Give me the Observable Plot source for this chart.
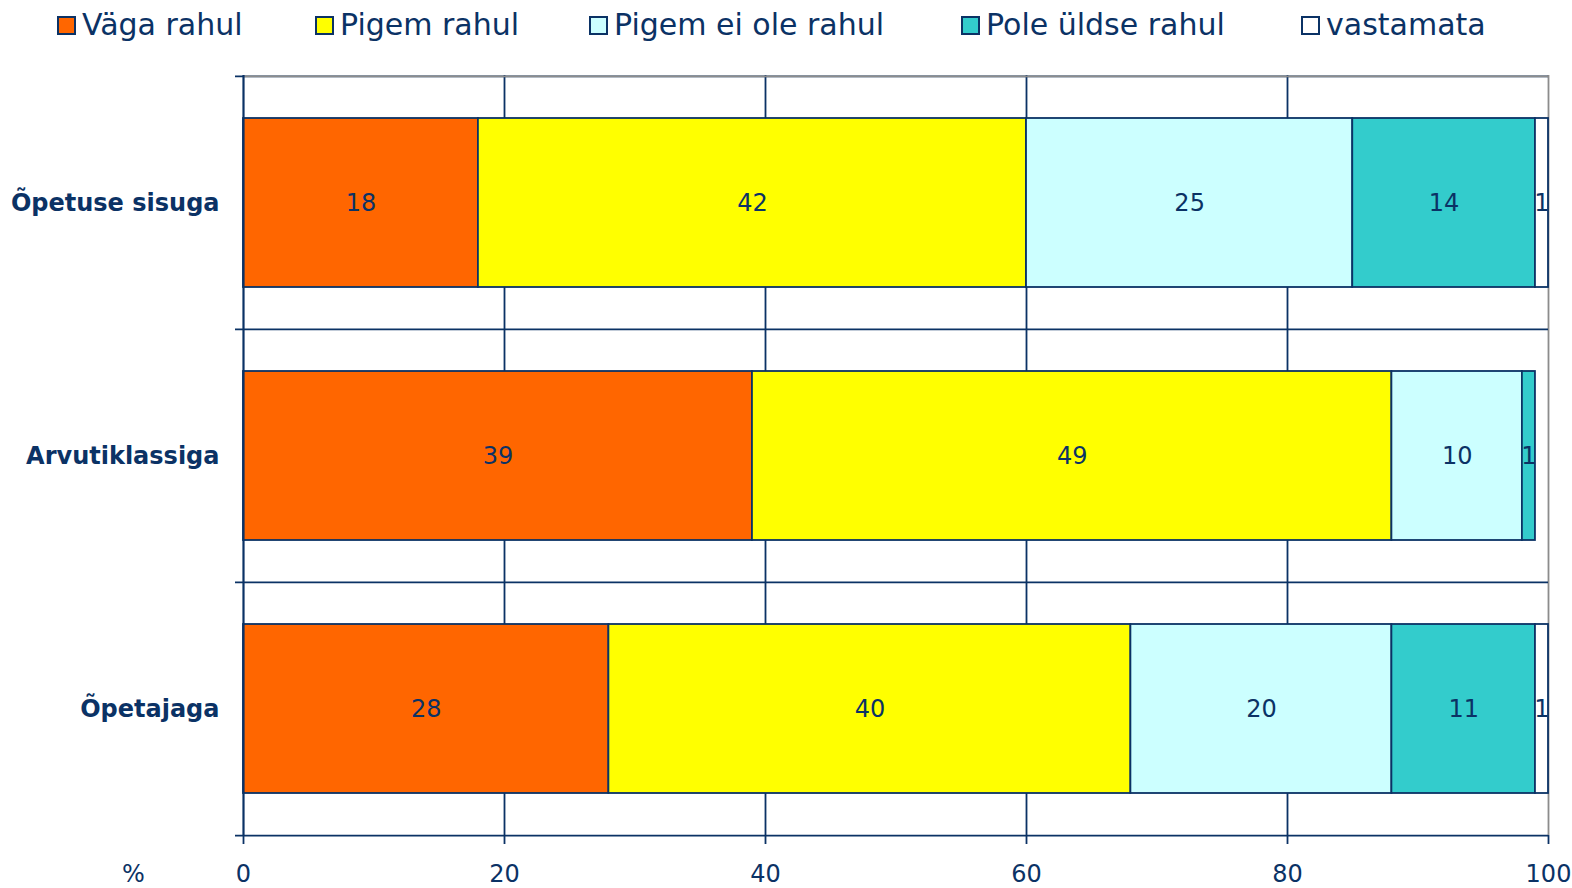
<!DOCTYPE html>
<html>
<head>
<meta charset="utf-8">
<script src="https://cdn.jsdelivr.net/npm/d3@7"></script>
<script src="https://cdn.jsdelivr.net/npm/@observablehq/plot@0.6"></script>
<style>
  html, body { margin: 0; padding: 0; background: #fff; }
  #wrap { position: relative; width: 1572px; height: 888px; font-family: "DejaVu Sans", sans-serif; color: #0b3265; }
  #legend { position: absolute; top: 0; left: 0; width: 1572px; height: 50px; }
  .item { position: absolute; top: 6px; display: flex; align-items: center; font-size: 30px; line-height: 38px; white-space: nowrap; }
  .sw { width: 15px; height: 15px; border: 2px solid #0b3265; margin-right: 6px; }
  #pct { position: absolute; left: 122px; top: 860px; font-size: 24px; }
</style>
</head>
<body>
<div id="wrap">
  <div id="chart"></div>
  <div id="legend"></div>
  <div id="pct">%</div>
</div>
<script>
const categories = ["Õpetuse sisuga", "Arvutiklassiga", "Õpetajaga"];
const series = ["Väga rahul", "Pigem rahul", "Pigem ei ole rahul", "Pole üldse rahul", "vastamata"];
const vagaRahul = [18, 39, 28];
const pigemRahul = [42, 49, 40];
const pigemEiOleRahul = [25, 10, 20];
const poleYldseRahul = [14, 1, 11];
const vastamata = [1, 0, 1];
const xTicks = [0, 20, 40, 60, 80, 100];
const colors = ["#ff6600", "#ffff00", "#ccffff", "#33cccc", "#ffffff"];

const navy = "#0b3265";
const gray = "#8c8c8c";
const legendLeft = [57, 315, 589, 961, 1301];

const valuesBySeries = [vagaRahul, pigemRahul, pigemEiOleRahul, poleYldseRahul, vastamata];
const data = [];
categories.forEach((c, ci) => {
  series.forEach((s, si) => {
    data.push({category: c, series: s, value: valuesBySeries[si][ci]});
  });
});

const W = 1572, H = 888, mT = 75, mB = 53, mL = 243, mR = 24;
const half = (H - mT - mB) / categories.length / 2;
const barInset = 42;
const sw = 1.8;

const chart = Plot.plot({
  width: W,
  height: H,
  marginTop: mT,
  marginBottom: mB,
  marginLeft: mL,
  marginRight: mR,
  style: {fontFamily: "DejaVu Sans, sans-serif", color: navy, background: "transparent"},
  x: {domain: [0, 100], ticks: xTicks, label: null},
  y: {domain: categories, padding: 0, label: null},
  color: {domain: series, range: colors},
  marks: [
    Plot.ruleX(xTicks.filter(v => v > 0 && v < 100), {stroke: navy, strokeWidth: sw}),
    Plot.ruleX([100], {stroke: gray, strokeWidth: sw}),
    Plot.ruleY(categories, {y: d => d, dy: -half, stroke: navy, strokeWidth: sw, insetLeft: -8}),
    Plot.ruleY([categories[categories.length - 1]], {y: d => d, dy: half, stroke: navy, strokeWidth: sw, insetLeft: -8}),
    Plot.ruleY([categories[0]], {y: d => d, dy: -half, stroke: gray, strokeWidth: sw}),
    Plot.barX(data.filter(d => d.value > 0), Plot.stackX({
      x: "value", y: "category", z: "series", fill: "series",
      stroke: navy, strokeWidth: sw, insetTop: barInset, insetBottom: barInset, order: null
    })),
    Plot.textX(data.filter(d => d.value > 0), Plot.stackX({
      x: "value", y: "category", z: "series", text: d => String(d.value),
      fill: navy, fontSize: 24, order: null
    })),
    Plot.ruleX([0], {stroke: navy, strokeWidth: 2.2}),
    Plot.axisX({ticks: xTicks, tickSize: 9, tickPadding: 20, fontSize: 24, stroke: navy, strokeWidth: sw, label: null, tickFormat: d => String(d)}),
    Plot.axisY({tickSize: 0, tickPadding: 24, fontSize: 24, fontWeight: "bold", label: null})
  ]
});
document.getElementById("chart").appendChild(chart);

const legend = document.getElementById("legend");
series.forEach((s, i) => {
  const item = document.createElement("div");
  item.className = "item";
  item.style.left = legendLeft[i] + "px";
  const box = document.createElement("div");
  box.className = "sw";
  box.style.background = colors[i];
  const t = document.createElement("span");
  t.textContent = s;
  item.appendChild(box);
  item.appendChild(t);
  legend.appendChild(item);
});
</script>
</body>
</html>
